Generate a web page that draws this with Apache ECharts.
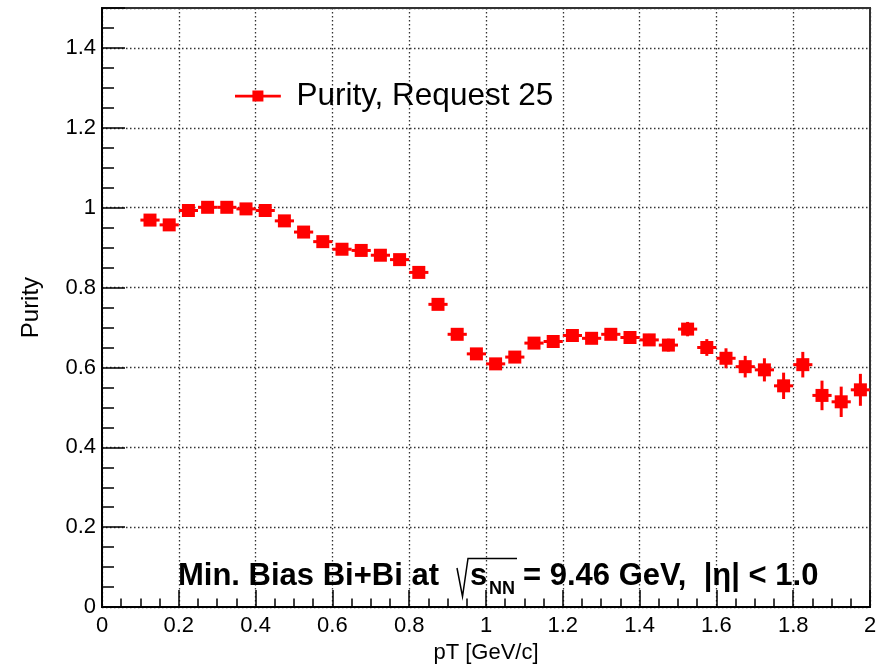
<!DOCTYPE html>
<html>
<head>
<meta charset="utf-8">
<script src="https://cdn.jsdelivr.net/npm/echarts@6/dist/echarts.min.js"></script>
<style>
  html, body { margin: 0; padding: 0; background: #ffffff; }
  #chart { width: 887px; height: 669px; }
</style>
</head>
<body>
<div id="chart"></div>
<script>
// Bin centres in pT (GeV/c), bin width 0.05
const pT = [0.125, 0.175, 0.225, 0.275, 0.325, 0.375, 0.425, 0.475, 0.525, 0.575,
            0.625, 0.675, 0.725, 0.775, 0.825, 0.875, 0.925, 0.975, 1.025, 1.075,
            1.125, 1.175, 1.225, 1.275, 1.325, 1.375, 1.425, 1.475, 1.525, 1.575,
            1.625, 1.675, 1.725, 1.775, 1.825, 1.875, 1.925, 1.975];
const binWidth = 0.05;

// Purity per bin and its statistical uncertainty
const purity = [0.969, 0.957, 0.993, 1.001, 1.001, 0.997, 0.993, 0.967, 0.939, 0.915,
                0.896, 0.893, 0.881, 0.870, 0.838, 0.758, 0.683, 0.634, 0.609, 0.626,
                0.661, 0.665, 0.680, 0.673, 0.683, 0.675, 0.669, 0.656, 0.696, 0.650,
                0.623, 0.602, 0.594, 0.554, 0.607, 0.530, 0.514, 0.544];
const purityErr = [0.008, 0.008, 0.008, 0.008, 0.008, 0.008, 0.008, 0.009, 0.009, 0.009,
                   0.009, 0.009, 0.010, 0.010, 0.010, 0.011, 0.011, 0.012, 0.012, 0.013,
                   0.013, 0.013, 0.014, 0.014, 0.014, 0.015, 0.015, 0.016, 0.018, 0.021,
                   0.025, 0.027, 0.029, 0.033, 0.032, 0.037, 0.038, 0.040];

// Axis ticks
const xTicks = [0, 0.2, 0.4, 0.6, 0.8, 1, 1.2, 1.4, 1.6, 1.8, 2];
const yTicks = [0, 0.2, 0.4, 0.6, 0.8, 1, 1.2, 1.4];
const yMax = 1.5;

const seriesName = 'Purity, Request 25';
const FONT = '"Liberation Sans", Arial, Helvetica, sans-serif';

const points = pT.map((x, i) => [x, purity[i], purityErr[i], binWidth / 2]);

const chart = echarts.init(document.getElementById('chart'), null, { renderer: 'canvas' });

const gridLine = { show: true, lineStyle: { color: '#333', width: 1.3, type: [1.5, 2.5] } };

chart.setOption({
  animation: false,
  backgroundColor: '#ffffff',
  grid: {
    left: 102, right: 17, top: 8, bottom: 57,
    show: true, borderColor: '#333', borderWidth: 2, backgroundColor: 'transparent'
  },
  legend: {
    left: 235, top: 80, padding: 0,
    itemWidth: 49, itemHeight: 11,
    data: [{ name: seriesName, icon: 'path://M0,4.5H19V0H31V4.5H50V7.5H31V12H19V7.5H0Z' }],
    textStyle: { fontFamily: FONT, fontSize: 31.5, color: '#000', lineHeight: 32, padding: [0, 0, 0, 9] }
  },
  xAxis: {
    type: 'value', min: xTicks[0], max: xTicks[xTicks.length - 1], interval: 0.2,
    name: 'pT [GeV/c]', nameLocation: 'middle', nameGap: 34,
    nameTextStyle: { fontFamily: FONT, fontSize: 22, color: '#000' },
    axisLine: { show: true, lineStyle: { color: '#000', width: 2 } },
    axisTick: { show: true, inside: true, length: 17, lineStyle: { color: '#000', width: 1.5 } },
    minorTick: { show: true, splitNumber: 4, length: 8.5, lineStyle: { color: '#000', width: 1.5 } },
    axisLabel: {
      fontFamily: FONT, fontSize: 22, color: '#000', margin: 8,
      formatter: v => { const t = xTicks.find(k => Math.abs(k - v) < 1e-6); return t === undefined ? '' : String(t); }
    },
    splitLine: gridLine
  },
  yAxis: {
    type: 'value', min: yTicks[0], max: yMax, interval: 0.2,
    name: 'Purity', nameLocation: 'middle', nameGap: 59, nameRotate: 90,
    nameTextStyle: { fontFamily: FONT, fontSize: 24, color: '#000' },
    axisLine: { show: true, lineStyle: { color: '#000', width: 2 } },
    axisTick: { show: true, inside: true, length: 23, lineStyle: { color: '#000', width: 1.5 } },
    minorTick: { show: true, splitNumber: 4, length: 12, lineStyle: { color: '#000', width: 1.5 } },
    axisLabel: {
      fontFamily: FONT, fontSize: 22, color: '#000', margin: 6,
      formatter: v => { const t = yTicks.find(k => Math.abs(k - v) < 1e-6); return t === undefined ? '' : String(t); }
    },
    splitLine: gridLine
  },
  series: [{
    name: seriesName,
    type: 'custom',
    itemStyle: { color: '#ff0000' },
    clip: true,
    encode: { x: 0, y: 1 },
    data: points,
    renderItem: function (params, api) {
      const x = api.value(0), y = api.value(1), ey = api.value(2), ex = api.value(3);
      const c = api.coord([x, y]);
      const l = api.coord([x - ex, y]);
      const r = api.coord([x + ex, y]);
      const t = api.coord([x, y + ey]);
      const b = api.coord([x, y - ey]);
      const stroke = { stroke: '#ff0000', lineWidth: 3 };
      const half = 6.5;
      return {
        type: 'group',
        children: [
          { type: 'line', shape: { x1: l[0], y1: c[1], x2: r[0], y2: c[1] }, style: stroke },
          { type: 'line', shape: { x1: c[0], y1: t[1], x2: c[0], y2: b[1] }, style: stroke },
          { type: 'rect', shape: { x: c[0] - half, y: c[1] - half, width: 2 * half, height: 2 * half },
            style: { fill: '#ff0000' } }
        ]
      };
    }
  }],
  graphic: [
    // Event selection caption with a drawn radical over s_NN
    { type: 'text', x: 178, y: 576, z: 10,
      style: { text: 'Min. Bias Bi+Bi at', font: 'bold 31px ' + FONT, fill: '#000', verticalAlign: 'middle' } },
    { type: 'polyline', z: 10,
      shape: { points: [[457, 568], [462.5, 596.5], [468, 558.5], [517, 558.5]] },
      style: { stroke: '#000', lineWidth: 1.5, fill: null } },
    { type: 'text', x: 470, y: 576, z: 10,
      style: { text: 's', font: 'bold 31px ' + FONT, fill: '#000', verticalAlign: 'middle' } },
    { type: 'text', x: 489, y: 589, z: 10,
      style: { text: 'NN', font: 'bold 18px ' + FONT, fill: '#000', verticalAlign: 'middle' } },
    { type: 'text', x: 523, y: 576, z: 10,
      style: { text: '= 9.46 GeV,  |\u03B7| < 1.0', font: 'bold 31px ' + FONT, fill: '#000', verticalAlign: 'middle' } }
  ]
});
</script>
</body>
</html>
